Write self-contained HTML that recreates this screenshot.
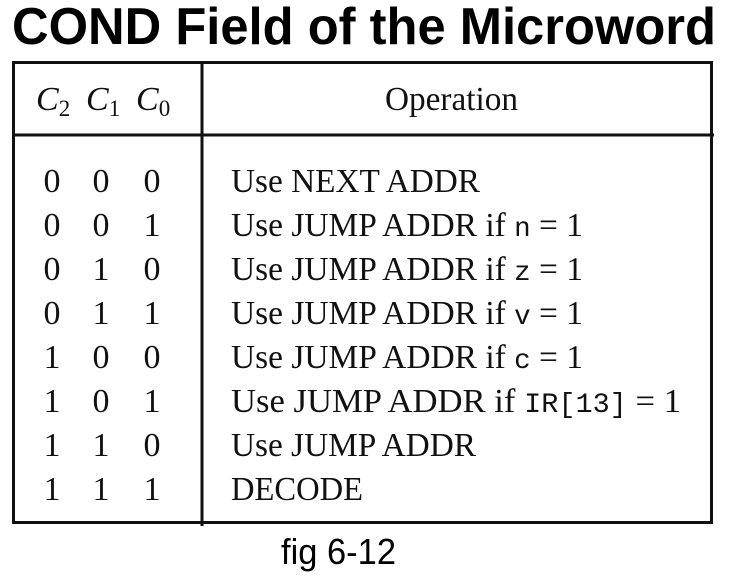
<!DOCTYPE html>
<html><head><meta charset="utf-8"><style>
html,body{margin:0;padding:0;background:#fff;width:729px;height:580px;overflow:hidden}
svg{display:block}
.t{font-family:"Liberation Serif",serif;font-size:34px;fill:#111}
.m{font-family:"Liberation Mono",monospace;font-size:28px;fill:#111}
</style></head><body>
<svg width="729" height="580" viewBox="0 0 729 580" xmlns="http://www.w3.org/2000/svg">
<text x="12" y="44" font-family="Liberation Sans, sans-serif" font-weight="bold" font-size="52" textLength="704" lengthAdjust="spacingAndGlyphs" fill="#000">COND Field of the Microword</text>
<g stroke="#111" fill="none">
<rect x="13.5" y="62.5" width="698" height="460" stroke-width="3"/>
<line x1="202" y1="62" x2="202" y2="526" stroke-width="3"/>
<line x1="13" y1="135" x2="714" y2="135" stroke-width="3"/>
</g>
<g class="t" font-style="italic">
<text x="36" y="110">C<tspan font-size="23" dy="6" font-style="normal">2</tspan></text>
<text x="86" y="110">C<tspan font-size="23" dy="6" font-style="normal">1</tspan></text>
<text x="136" y="110">C<tspan font-size="23" dy="6" font-style="normal">0</tspan></text>
</g>
<text class="t" x="385" y="110" textLength="133" lengthAdjust="spacingAndGlyphs">Operation</text>
<g class="t" text-anchor="middle">
<text x="52" y="192">0</text><text x="101" y="192">0</text><text x="152" y="192">0</text>
<text x="52" y="236">0</text><text x="101" y="236">0</text><text x="152" y="236">1</text>
<text x="52" y="280">0</text><text x="101" y="280">1</text><text x="152" y="280">0</text>
<text x="52" y="324">0</text><text x="101" y="324">1</text><text x="152" y="324">1</text>
<text x="52" y="368">1</text><text x="101" y="368">0</text><text x="152" y="368">0</text>
<text x="52" y="412">1</text><text x="101" y="412">0</text><text x="152" y="412">1</text>
<text x="52" y="456">1</text><text x="101" y="456">1</text><text x="152" y="456">0</text>
<text x="52" y="500">1</text><text x="101" y="500">1</text><text x="152" y="500">1</text>
</g>
<g class="t">
<text x="231" y="192" textLength="249" lengthAdjust="spacingAndGlyphs">Use NEXT ADDR</text>
<text x="231" y="236" textLength="352" lengthAdjust="spacingAndGlyphs">Use JUMP ADDR if <tspan class="m">n</tspan> = 1</text>
<text x="231" y="280" textLength="352" lengthAdjust="spacingAndGlyphs">Use JUMP ADDR if <tspan class="m">z</tspan> = 1</text>
<text x="231" y="324" textLength="352" lengthAdjust="spacingAndGlyphs">Use JUMP ADDR if <tspan class="m">v</tspan> = 1</text>
<text x="231" y="368" textLength="352" lengthAdjust="spacingAndGlyphs">Use JUMP ADDR if <tspan class="m">c</tspan> = 1</text>
<text x="231" y="412" textLength="450" lengthAdjust="spacingAndGlyphs">Use JUMP ADDR if <tspan class="m">IR[13]</tspan> = 1</text>
<text x="231" y="456" textLength="245" lengthAdjust="spacingAndGlyphs">Use JUMP ADDR</text>
<text x="231" y="500" textLength="132" lengthAdjust="spacingAndGlyphs">DECODE</text>
</g>
<text x="281" y="564" font-family="Liberation Sans, sans-serif" font-size="36" textLength="115" lengthAdjust="spacingAndGlyphs" fill="#000">fig 6-12</text>
</svg>
</body></html>
